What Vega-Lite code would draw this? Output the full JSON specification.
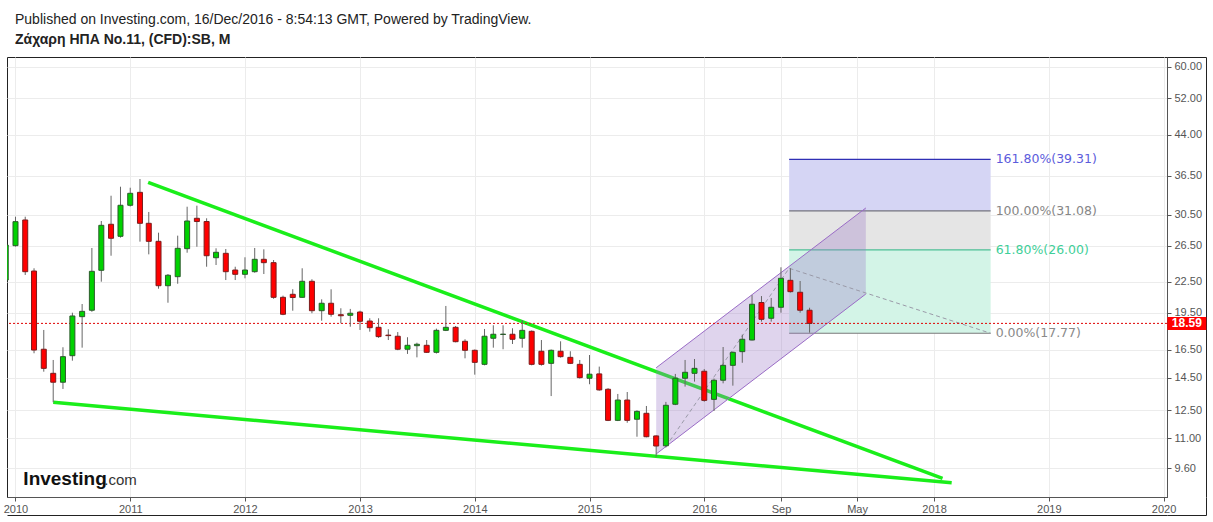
{
  "$schema": "https://vega.github.io/schema/vega-lite/v6.json",
  "width": 1160,
  "height": 440,
  "autosize": {"type": "none"},
  "padding": {"left": 7, "top": 57, "right": 46, "bottom": 25},
  "background": "white",
  "title": {
    "text": "Published on Investing.com, 16/Dec/2016 - 8:54:13 GMT, Powered by TradingView.",
    "subtitle": "Ζάχαρη ΗΠΑ No.11, (CFD):SB, M",
    "anchor": "start",
    "frame": "group",
    "font": "Liberation Sans",
    "fontSize": 14,
    "fontWeight": "normal",
    "color": "#222222",
    "subtitleFont": "Liberation Sans",
    "subtitleFontSize": 14,
    "subtitleFontWeight": "bold",
    "subtitleColor": "#222222",
    "subtitlePadding": 6,
    "offset": 10,
    "dx": 8
  },
  "config": {
    "view": {"stroke": "#222222", "strokeWidth": 1},
    "axis": {
      "labelFont": "Liberation Sans",
      "labelFontSize": 11,
      "labelColor": "#555555",
      "domainColor": "#555555",
      "tickColor": "#555555",
      "tickSize": 4,
      "gridColor": "#ececec"
    }
  },
  "datasets": {
    "candles": [
      {"d": "2009-12-01", "o": 22.66, "h": 26.84, "l": 22.46, "c": 26.59},
      {"d": "2010-01-01", "o": 26.51, "h": 30.26, "l": 26.4, "c": 29.58},
      {"d": "2010-02-01", "o": 29.81, "h": 30.26, "l": 23.19, "c": 23.54},
      {"d": "2010-03-01", "o": 23.61, "h": 23.91, "l": 16.22, "c": 16.46},
      {"d": "2010-04-01", "o": 16.52, "h": 18.04, "l": 14.91, "c": 15.14},
      {"d": "2010-05-01", "o": 14.8, "h": 15.73, "l": 12.97, "c": 14.21},
      {"d": "2010-06-01", "o": 14.21, "h": 16.67, "l": 13.78, "c": 15.97},
      {"d": "2010-07-01", "o": 16.04, "h": 19.52, "l": 15.68, "c": 19.23},
      {"d": "2010-08-01", "o": 19.17, "h": 20.31, "l": 16.64, "c": 19.64},
      {"d": "2010-09-01", "o": 19.74, "h": 26.23, "l": 19.6, "c": 23.58},
      {"d": "2010-10-01", "o": 23.69, "h": 29.67, "l": 22.49, "c": 29.09},
      {"d": "2010-11-01", "o": 29.23, "h": 33.3, "l": 25.32, "c": 27.42},
      {"d": "2010-12-01", "o": 27.67, "h": 34.7, "l": 27.5, "c": 31.88},
      {"d": "2011-01-01", "o": 31.88, "h": 34.54, "l": 31.7, "c": 33.67},
      {"d": "2011-02-01", "o": 33.82, "h": 35.94, "l": 27.0, "c": 29.36},
      {"d": "2011-03-01", "o": 29.36, "h": 30.92, "l": 25.48, "c": 27.04},
      {"d": "2011-04-01", "o": 27.04, "h": 28.13, "l": 21.78, "c": 22.08},
      {"d": "2011-05-01", "o": 22.08, "h": 23.29, "l": 20.43, "c": 23.16},
      {"d": "2011-06-01", "o": 23.01, "h": 27.75, "l": 22.28, "c": 26.19},
      {"d": "2011-07-01", "o": 26.15, "h": 31.67, "l": 25.67, "c": 29.67},
      {"d": "2011-08-01", "o": 30.04, "h": 31.82, "l": 26.38, "c": 29.6},
      {"d": "2011-09-01", "o": 29.6, "h": 30.04, "l": 24.08, "c": 25.32},
      {"d": "2011-10-01", "o": 25.09, "h": 26.19, "l": 24.27, "c": 25.72},
      {"d": "2011-11-01", "o": 25.6, "h": 26.11, "l": 22.66, "c": 23.54},
      {"d": "2011-12-01", "o": 23.72, "h": 24.08, "l": 22.66, "c": 23.26},
      {"d": "2012-01-01", "o": 23.26, "h": 25.14, "l": 22.84, "c": 23.72},
      {"d": "2012-02-01", "o": 23.54, "h": 26.23, "l": 23.43, "c": 24.91},
      {"d": "2012-03-01", "o": 24.91, "h": 26.07, "l": 23.29, "c": 24.53},
      {"d": "2012-04-01", "o": 24.53, "h": 24.83, "l": 20.8, "c": 20.94},
      {"d": "2012-05-01", "o": 20.94, "h": 21.1, "l": 19.3, "c": 19.38},
      {"d": "2012-06-01", "o": 21.23, "h": 21.73, "l": 19.7, "c": 20.92},
      {"d": "2012-07-01", "o": 20.94, "h": 23.91, "l": 20.9, "c": 22.53},
      {"d": "2012-08-01", "o": 22.53, "h": 22.74, "l": 19.47, "c": 19.7},
      {"d": "2012-09-01", "o": 19.7, "h": 20.75, "l": 18.82, "c": 20.38},
      {"d": "2012-10-01", "o": 20.38, "h": 21.72, "l": 19.17, "c": 19.38},
      {"d": "2012-11-01", "o": 19.34, "h": 19.92, "l": 18.6, "c": 19.25},
      {"d": "2012-12-01", "o": 19.29, "h": 19.86, "l": 18.31, "c": 19.47},
      {"d": "2013-01-01", "o": 19.58, "h": 19.7, "l": 18.04, "c": 18.77},
      {"d": "2013-02-01", "o": 18.79, "h": 19.03, "l": 17.9, "c": 18.23},
      {"d": "2013-03-01", "o": 18.26, "h": 19.03, "l": 17.4, "c": 17.5},
      {"d": "2013-04-01", "o": 17.62, "h": 18.1, "l": 17.23, "c": 17.58},
      {"d": "2013-05-01", "o": 17.53, "h": 17.87, "l": 16.45, "c": 16.52},
      {"d": "2013-06-01", "o": 16.52, "h": 17.45, "l": 16.17, "c": 16.82},
      {"d": "2013-07-01", "o": 16.79, "h": 17.02, "l": 15.92, "c": 16.9},
      {"d": "2013-08-01", "o": 16.82, "h": 17.23, "l": 16.25, "c": 16.29},
      {"d": "2013-09-01", "o": 16.29, "h": 18.15, "l": 16.2, "c": 18.01},
      {"d": "2013-10-01", "o": 18.01, "h": 20.13, "l": 17.95, "c": 18.26},
      {"d": "2013-11-01", "o": 18.26, "h": 18.37, "l": 17.05, "c": 17.1},
      {"d": "2013-12-01", "o": 17.13, "h": 17.29, "l": 15.85, "c": 16.44},
      {"d": "2014-01-01", "o": 16.44, "h": 16.5, "l": 14.71, "c": 15.56},
      {"d": "2014-02-01", "o": 15.42, "h": 18.12, "l": 15.35, "c": 17.53},
      {"d": "2014-03-01", "o": 17.37, "h": 18.43, "l": 16.64, "c": 17.69},
      {"d": "2014-04-01", "o": 17.67, "h": 18.43, "l": 16.52, "c": 17.7},
      {"d": "2014-05-01", "o": 17.69, "h": 18.18, "l": 16.92, "c": 17.29},
      {"d": "2014-06-01", "o": 17.37, "h": 18.88, "l": 16.64, "c": 18.01},
      {"d": "2014-07-01", "o": 17.93, "h": 18.0, "l": 15.35, "c": 15.42},
      {"d": "2014-08-01", "o": 16.37, "h": 17.23, "l": 15.33, "c": 15.42},
      {"d": "2014-09-01", "o": 15.49, "h": 16.5, "l": 13.34, "c": 16.44},
      {"d": "2014-10-01", "o": 16.37, "h": 17.13, "l": 15.9, "c": 15.97},
      {"d": "2014-11-01", "o": 15.92, "h": 16.37, "l": 15.44, "c": 15.49},
      {"d": "2014-12-01", "o": 15.42, "h": 15.73, "l": 14.45, "c": 14.51},
      {"d": "2015-01-01", "o": 14.47, "h": 16.09, "l": 14.08, "c": 14.74},
      {"d": "2015-02-01", "o": 14.76, "h": 15.26, "l": 13.67, "c": 13.72},
      {"d": "2015-03-01", "o": 13.76, "h": 13.83, "l": 11.9, "c": 11.94},
      {"d": "2015-04-01", "o": 11.94, "h": 13.47, "l": 11.9, "c": 13.1},
      {"d": "2015-05-01", "o": 13.1, "h": 13.59, "l": 11.81, "c": 11.94},
      {"d": "2015-06-01", "o": 12.0, "h": 12.5, "l": 11.08, "c": 12.44},
      {"d": "2015-07-01", "o": 12.33, "h": 12.75, "l": 11.05, "c": 11.08},
      {"d": "2015-08-01", "o": 11.12, "h": 11.15, "l": 10.11, "c": 10.62},
      {"d": "2015-09-01", "o": 10.63, "h": 12.99, "l": 10.55, "c": 12.79},
      {"d": "2015-10-01", "o": 12.85, "h": 14.76, "l": 12.8, "c": 14.47},
      {"d": "2015-11-01", "o": 14.47, "h": 15.73, "l": 13.93, "c": 14.87},
      {"d": "2015-12-01", "o": 14.8, "h": 15.8, "l": 14.25, "c": 15.14},
      {"d": "2016-01-01", "o": 14.94, "h": 15.09, "l": 13.0, "c": 13.08},
      {"d": "2016-02-01", "o": 13.14, "h": 14.45, "l": 12.46, "c": 14.34},
      {"d": "2016-03-01", "o": 14.34, "h": 16.69, "l": 14.14, "c": 15.35},
      {"d": "2016-04-01", "o": 15.35, "h": 16.35, "l": 13.99, "c": 16.29},
      {"d": "2016-05-01", "o": 16.34, "h": 17.66, "l": 15.53, "c": 17.29},
      {"d": "2016-06-01", "o": 17.23, "h": 21.15, "l": 17.2, "c": 20.29},
      {"d": "2016-07-01", "o": 20.45, "h": 21.06, "l": 18.74, "c": 18.94},
      {"d": "2016-08-01", "o": 19.03, "h": 20.88, "l": 18.74, "c": 20.01},
      {"d": "2016-09-01", "o": 20.01, "h": 24.02, "l": 19.52, "c": 22.84},
      {"d": "2016-10-01", "o": 22.63, "h": 23.91, "l": 21.4, "c": 21.49},
      {"d": "2016-11-01", "o": 21.43, "h": 22.56, "l": 19.52, "c": 19.74},
      {"d": "2016-12-01", "o": 19.74, "h": 19.97, "l": 17.82, "c": 18.59}
    ],
    "trend": [
      {"name": "upper", "d": "2011-02-27", "p": 35.4},
      {"name": "upper", "d": "2018-01-28", "p": 9.16},
      {"name": "lower", "d": "2010-05-01", "p": 12.97},
      {"name": "lower", "d": "2018-02-26", "p": 8.98}
    ],
    "channel": [
      {"d": "2015-08-01", "lo": 10.24, "hi": 15.18},
      {"d": "2017-05-29", "lo": 21.26, "hi": 31.49}
    ],
    "fibBands": [
      {"band": "0-61.8", "from": 17.77, "to": 26.0, "start": "2016-09-27", "end": "2018-06-30"},
      {"band": "61.8-100", "from": 26.0, "to": 31.08, "start": "2016-09-27", "end": "2018-06-30"},
      {"band": "100-161.8", "from": 31.08, "to": 39.31, "start": "2016-09-27", "end": "2018-06-30"}
    ],
    "fibLevels": [
      {"lvl": "161.8", "p": 39.31, "label": "161.80%(39.31)", "start": "2016-09-27", "end": "2018-06-30"},
      {"lvl": "100", "p": 31.08, "label": "100.00%(31.08)", "start": "2016-09-27", "end": "2018-06-30"},
      {"lvl": "61.8", "p": 26.0, "label": "61.80%(26.00)", "start": "2016-09-27", "end": "2018-06-30"},
      {"lvl": "0", "p": 17.77, "label": "0.00%(17.77)", "start": "2016-09-27", "end": "2018-06-30"}
    ],
    "fibPath": [
      {"step": 1, "d": "2015-09-01", "p": 10.6},
      {"step": 2, "d": "2016-09-27", "p": 23.91},
      {"step": 3, "d": "2018-06-30", "p": 17.77}
    ],
    "last": [{"p": 18.59}]
  },
  "layer": [
    {
      "data": {"name": "fibBands"},
      "mark": {"type": "rect"},
      "encoding": {
        "x": {
          "field": "start", "type": "temporal",
          "scale": {"domain": [{"year": 2009, "month": 12, "date": 5}, {"year": 2020, "month": 1, "date": 12}], "padding": 0, "nice": false},
          "axis": {
            "orient": "bottom",
            "values": [
              {"year": 2010, "month": 1, "date": 1}, {"year": 2011, "month": 1, "date": 1},
              {"year": 2012, "month": 1, "date": 1}, {"year": 2013, "month": 1, "date": 1},
              {"year": 2014, "month": 1, "date": 1}, {"year": 2015, "month": 1, "date": 1},
              {"year": 2016, "month": 1, "date": 1}, {"year": 2016, "month": 9, "date": 1},
              {"year": 2017, "month": 5, "date": 1}, {"year": 2018, "month": 1, "date": 1},
              {"year": 2019, "month": 1, "date": 1}, {"year": 2020, "month": 1, "date": 1}
            ],
            "labelExpr": "month(datum.value) === 8 ? 'Sep' : (month(datum.value) === 4 ? 'May' : timeFormat(datum.value, '%Y'))",
            "grid": true,
            "labelPadding": 2,
            "labelOverlap": false,
            "labelFlush": false,
            "title": null
          }
        },
        "x2": {"field": "end"},
        "y": {
          "field": "from", "type": "quantitative",
          "scale": {"type": "log", "domain": [8.414, 62.74], "nice": false, "zero": false, "padding": 0},
          "axis": {
            "orient": "right",
            "values": [9.6, 11, 12.5, 14.5, 16.5, 19.5, 22.5, 26.5, 30.5, 36.5, 44, 52, 60],
            "format": ".2f",
            "grid": true,
            "labelPadding": 3,
            "labelOverlap": false,
            "labelFlush": false,
            "title": null
          }
        },
        "y2": {"field": "to"},
        "fill": {
          "field": "band", "type": "nominal", "legend": null,
          "scale": {"domain": ["0-61.8", "61.8-100", "100-161.8"], "range": ["#d3f4e7", "#e5e5e5", "#d5d5f4"]}
        }
      }
    },
    {
      "data": {"name": "fibLevels"},
      "mark": {"type": "rule", "strokeWidth": 1.2},
      "encoding": {
        "x": {"field": "start", "type": "temporal", "axis": null},
        "x2": {"field": "end"},
        "y": {"field": "p", "type": "quantitative", "axis": null},
        "stroke": {
          "field": "lvl", "type": "nominal", "legend": null,
          "scale": {"domain": ["161.8", "100", "61.8", "0"], "range": ["#2f2fb5", "#72727e", "#4cbf96", "#7a7a7a"]}
        }
      }
    },
    {
      "data": {"name": "trend"},
      "mark": {"type": "line", "color": "#1aee1a", "strokeWidth": 3.5, "strokeCap": "butt"},
      "encoding": {
        "x": {"field": "d", "type": "temporal", "axis": null},
        "y": {"field": "p", "type": "quantitative", "axis": null},
        "detail": {"field": "name"}
      }
    },
    {
      "data": {"name": "channel"},
      "mark": {"type": "area", "color": "#9b78c8", "opacity": 0.32},
      "encoding": {
        "x": {"field": "d", "type": "temporal", "axis": null},
        "y": {"field": "lo", "type": "quantitative", "axis": null},
        "y2": {"field": "hi"}
      }
    },
    {
      "data": {"name": "channel"},
      "mark": {"type": "line", "color": "#9a6cc6", "strokeWidth": 1},
      "encoding": {
        "x": {"field": "d", "type": "temporal", "axis": null},
        "y": {"field": "lo", "type": "quantitative", "axis": null}
      }
    },
    {
      "data": {"name": "channel"},
      "mark": {"type": "line", "color": "#9a6cc6", "strokeWidth": 1},
      "encoding": {
        "x": {"field": "d", "type": "temporal", "axis": null},
        "y": {"field": "hi", "type": "quantitative", "axis": null}
      }
    },
    {
      "data": {"name": "fibPath"},
      "mark": {"type": "line", "color": "#9a9aa8", "strokeWidth": 1, "strokeDash": [4, 3]},
      "encoding": {
        "x": {"field": "d", "type": "temporal", "axis": null},
        "y": {"field": "p", "type": "quantitative", "axis": null},
        "order": {"field": "step"}
      }
    },
    {
      "data": {"name": "last"},
      "mark": {"type": "rule", "color": "#e00000", "strokeWidth": 1, "strokeDash": [2, 2]},
      "encoding": {
        "y": {"field": "p", "type": "quantitative", "axis": null}
      }
    },
    {
      "data": {"name": "candles"},
      "mark": {"type": "rule", "color": "#666666", "strokeWidth": 1, "clip": true},
      "encoding": {
        "x": {"field": "d", "type": "temporal", "axis": null},
        "y": {"field": "l", "type": "quantitative", "axis": null},
        "y2": {"field": "h"}
      }
    },
    {
      "data": {"name": "candles"},
      "mark": {"type": "bar", "width": 5, "strokeWidth": 1, "clip": true},
      "encoding": {
        "x": {"field": "d", "type": "temporal", "axis": null},
        "y": {"field": "o", "type": "quantitative", "axis": null},
        "y2": {"field": "c"},
        "fill": {"condition": {"test": "datum.c >= datum.o", "value": "#00d200"}, "value": "#ff0000"},
        "stroke": {"condition": {"test": "datum.c >= datum.o", "value": "#2b5a2b"}, "value": "#7a1c1c"},
        "opacity": {"value": 1}
      }
    },
    {
      "data": {"name": "fibLevels"},
      "mark": {"type": "text", "align": "left", "baseline": "middle", "dx": 5, "font": "DejaVu Sans", "fontSize": 12.5},
      "encoding": {
        "x": {"field": "end", "type": "temporal", "axis": null},
        "y": {"field": "p", "type": "quantitative", "axis": null},
        "text": {"field": "label"},
        "color": {
          "field": "lvl", "type": "nominal", "legend": null,
          "scale": {"domain": ["161.8", "100", "61.8", "0"], "range": ["#5c5cdc", "#868686", "#3fcf99", "#8a8a8a"]}
        }
      }
    },
    {
      "data": {"name": "last"},
      "mark": {"type": "point", "shape": "M-1.5,-0.5H1.5V0.5H-1.5Z", "size": 676, "filled": true, "color": "#ff0000", "opacity": 1, "strokeWidth": 0},
      "encoding": {
        "x": {"datum": {"year": 2020, "month": 3, "date": 15}, "type": "temporal", "axis": null},
        "y": {"field": "p", "type": "quantitative", "axis": null}
      }
    },
    {
      "data": {"name": "last"},
      "mark": {"type": "text", "align": "center", "baseline": "middle", "font": "Liberation Sans", "fontSize": 12, "fontWeight": "bold", "color": "white"},
      "encoding": {
        "x": {"datum": {"year": 2020, "month": 3, "date": 15}, "type": "temporal", "axis": null},
        "y": {"field": "p", "type": "quantitative", "axis": null},
        "text": {"field": "p", "type": "quantitative", "format": ".2f"}
      }
    },
    {
      "data": {"values": [{"brand": "Investing"}]},
      "mark": {"type": "text", "align": "left", "baseline": "alphabetic", "font": "Liberation Sans", "fontSize": 19, "fontWeight": "bold", "color": "#111111"},
      "encoding": {
        "x": {"datum": {"year": 2010, "month": 1, "date": 26}, "type": "temporal", "axis": null},
        "y": {"datum": 8.89, "type": "quantitative", "axis": null},
        "text": {"field": "brand"}
      }
    },
    {
      "data": {"values": [{"brand": ".com"}]},
      "mark": {"type": "text", "align": "left", "baseline": "alphabetic", "dx": 81, "font": "Liberation Sans", "fontSize": 15, "color": "#333333"},
      "encoding": {
        "x": {"datum": {"year": 2010, "month": 1, "date": 26}, "type": "temporal", "axis": null},
        "y": {"datum": 8.89, "type": "quantitative", "axis": null},
        "text": {"field": "brand"}
      }
    },
    {
      "data": {"values": [{}]},
      "mark": {"type": "point", "opacity": 0},
      "encoding": {
        "x": {
          "datum": {"year": 2015, "month": 1, "date": 1}, "type": "temporal",
          "axis": {"orient": "bottom", "offset": 18, "labels": false, "ticks": true, "values": [{"year": 2020, "month": 1, "date": 11}], "tickOffset": 39, "tickSize": -18, "tickColor": "#222222", "grid": false, "domain": true, "domainColor": "#222222", "title": null}
        },
        "y": {
          "datum": 20, "type": "quantitative",
          "axis": {"orient": "right", "offset": 39, "labels": false, "ticks": true, "values": [8.42], "tickOffset": 18, "tickSize": -39, "tickColor": "#222222", "grid": false, "domain": true, "domainColor": "#222222", "title": null}
        }
      }
    },
    {
      "data": {"values": [{}]},
      "mark": {"type": "point", "opacity": 0},
      "encoding": {
        "y": {
          "datum": 20, "type": "quantitative",
          "axis": {"orient": "right", "offset": 39, "labels": false, "ticks": true, "values": [62.7], "tickOffset": 0, "tickSize": -39, "tickColor": "#222222", "grid": false, "domain": false, "title": null}
        }
      }
    }
  ],
  "resolve": {"axis": {"x": "independent", "y": "independent"}}
}
